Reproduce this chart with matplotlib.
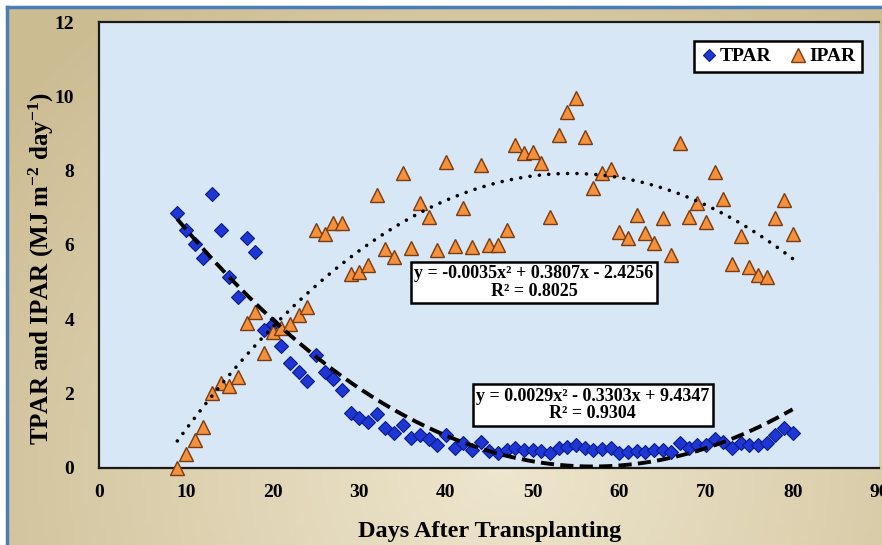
import numpy as np
import matplotlib
matplotlib.use("Agg")
import matplotlib.pyplot as plt

plt.rcParams['font.family'] = ['Liberation Serif', 'DejaVu Serif']
plt.rcParams['font.weight'] = 'bold'
plt.rcParams['mathtext.fontset'] = 'custom'
plt.rcParams['mathtext.rm'] = 'Liberation Serif:bold'
plt.rcParams['mathtext.bf'] = 'Liberation Serif:bold'
plt.rcParams['mathtext.it'] = 'Liberation Serif:bold'
plt.rcParams['mathtext.default'] = 'bf'

# ---------------- data ----------------
days = list(range(9, 81))
tpar = [6.85, 6.40, 6.02, 5.66, 7.37, 6.40, 5.13, 4.60, 6.20, 5.80,
        3.71, 3.86, 3.27, 2.83, 2.58, 2.34, 3.03, 2.57, 2.40, 2.09,
        1.48, 1.33, 1.22, 1.45, 1.06, 0.92, 1.15, 0.79, 0.89, 0.78,
        0.62, 0.87, 0.54, 0.66, 0.47, 0.69, 0.45, 0.38, 0.47, 0.54,
        0.47, 0.47, 0.45, 0.38, 0.52, 0.56, 0.62, 0.54, 0.47, 0.49,
        0.52, 0.40, 0.43, 0.45, 0.43, 0.47, 0.47, 0.43, 0.67, 0.54,
        0.61, 0.61, 0.76, 0.70, 0.52, 0.67, 0.61, 0.61, 0.67, 0.88,
        1.06, 0.94]
ipar = [0.00, 0.36, 0.74, 1.10, 2.00, 2.29, 2.21, 2.43, 3.89, 4.20,
        3.09, 3.66, 3.75, 3.87, 4.11, 4.33, 6.40, 6.30, 6.60, 6.58,
        5.21, 5.28, 5.45, 7.35, 5.88, 5.67, 7.93, 5.93, 7.12, 6.76,
        5.87, 8.23, 5.98, 6.99, 5.95, 8.15, 6.00, 6.00, 6.40, 8.69,
        8.47, 8.51, 8.20, 6.76, 8.96, 9.59, 9.95, 8.92, 7.53, 7.93,
        8.06, 6.36, 6.18, 6.81, 6.33, 6.04, 6.72, 5.73, 8.74, 6.76,
        7.12, 6.63, 7.97, 7.23, 5.50, 6.25, 5.41, 5.19, 5.13, 6.72,
        7.21, 6.29]
# trendline coefficients shown in the chart (a, b, c for ax^2+bx+c)
tpar_coef = [0.0029, -0.3303, 9.4347]
ipar_coef = [-0.0035, 0.3807, -2.4256]
tpar_eq = "y = 0.0029x\u00b2 - 0.3303x + 9.4347\nR\u00b2 = 0.9304"
ipar_eq = "y = -0.0035x\u00b2 + 0.3807x - 2.4256\nR\u00b2 = 0.8025"
xticks = [0, 10, 20, 30, 40, 50, 60, 70, 80, 90]
yticks = [0, 2, 4, 6, 8, 10, 12]

# ---------------- figure ----------------
W, H = 882, 545
fig = plt.figure(figsize=(W / 100, H / 100), dpi=100, facecolor='white')

# beige background with blue frame line
bg = fig.add_axes([7 / W, -0.01, 1.02, 1 - 7 / H + 0.01])
gx = np.linspace(0, 1, 200)
gy = np.linspace(0, 1, 120)
GX, GY = np.meshgrid(gx, gy)
t = np.clip(np.sqrt(((GX - 0.55) / 0.7) ** 2 + ((GY - 0.15) / 1.1) ** 2), 0, 1)
light = np.array([238, 230, 206]) / 255
dark = np.array([204, 188, 146]) / 255
img = light[None, None, :] * (1 - t[..., None]) + dark[None, None, :] * t[..., None]
bg.imshow(img, aspect='auto', extent=[0, 1, 0, 1], origin='lower')
bg.set_xticks([]); bg.set_yticks([])
for s in ['right', 'bottom']:
    bg.spines[s].set_visible(False)
for s in ['left', 'top']:
    bg.spines[s].set_color('#4a7ebb')
    bg.spines[s].set_linewidth(2.5)
bg.set_zorder(-5)

x0, x1 = 99.3, 879.3
y0, y1 = 467.6, 22.3
ax = fig.add_axes([x0 / W, 1 - y0 / H, (x1 - x0) / W, (y0 - y1) / H])
ax.set_facecolor('#d8e7f6')
ax.set_xlim(0, 90)
ax.set_ylim(0, 12)
ax.set_xticks(xticks)
ax.set_yticks(yticks)
ax.tick_params(length=0, labelsize=14)
ax.tick_params(axis='y', pad=18)
ax.tick_params(axis='x', pad=12)
for lab in ax.get_xticklabels() + ax.get_yticklabels():
    lab.set_fontweight('bold')
ax.spines['right'].set_visible(False)
for s in ['left', 'top', 'bottom']:
    ax.spines[s].set_color('#1a1a1a')
    ax.spines[s].set_linewidth(1.6)

# markers
ax.plot(days, tpar, linestyle='none', marker='D', markersize=6.8,
        markerfacecolor='#1d36d4', markeredgecolor='#0b1c86', markeredgewidth=0.8,
        label='TPAR', zorder=3, clip_on=False)
ax.plot(days, ipar, linestyle='none', marker='^', markersize=10.5,
        markerfacecolor='#f4913a', markeredgecolor='#7a3a12', markeredgewidth=1.0,
        label='IPAR', zorder=3, clip_on=False)

# trendlines
xs = np.linspace(days[0], days[-1], 300)
ax.plot(xs, np.polyval(tpar_coef, xs), color='black', linewidth=2.8,
        linestyle=(0, (3.4, 1.6)), zorder=4)
ax.plot(xs, np.polyval(ipar_coef, xs), color='black', linewidth=2.6,
        linestyle=(0, (0.01, 2.6)), dash_capstyle='round', zorder=4)

# equation boxes
box = dict(boxstyle='square,pad=0.18', facecolor='white', edgecolor='black', linewidth=1.8)
ax.text(50.17, 4.99, ipar_eq, ha='center', va='center', multialignment='center',
        fontsize=13, fontweight='bold', bbox=box, zorder=6, linespacing=1.05)
ax.text(56.93, 1.685, tpar_eq, ha='center', va='center', multialignment='center',
        fontsize=13, fontweight='bold', bbox=box, zorder=6, linespacing=1.05)

# legend
leg = ax.legend(loc='upper right', bbox_to_anchor=(862 / W, 1 - 41 / H),
                bbox_transform=fig.transFigure, borderaxespad=0, ncol=2,
                frameon=True, fancybox=False, handlelength=0.8, handletextpad=0.15,
                columnspacing=1.0, borderpad=0.35,
                prop={'family': 'Liberation Serif', 'weight': 'bold', 'size': 14},
                markerscale=0.9)
leg.get_frame().set_edgecolor('black')
leg.get_frame().set_linewidth(1.8)
leg.get_frame().set_facecolor('white')
leg.get_frame().set_alpha(1)
leg.set_zorder(7)

# axis titles
fig.text(490 / W, 1 - 537 / H, 'Days After Transplanting', ha='center', va='baseline',
         fontsize=17.5, fontweight='bold')
fig.text(41 / W, 1 - 268 / H, r'TPAR and IPAR (MJ m$^{-2}$ day$^{-1}$)',
         rotation=90, ha='center', va='center', fontsize=18, fontweight='bold')

fig.savefig('out.png', dpi=100, facecolor=fig.get_facecolor())
